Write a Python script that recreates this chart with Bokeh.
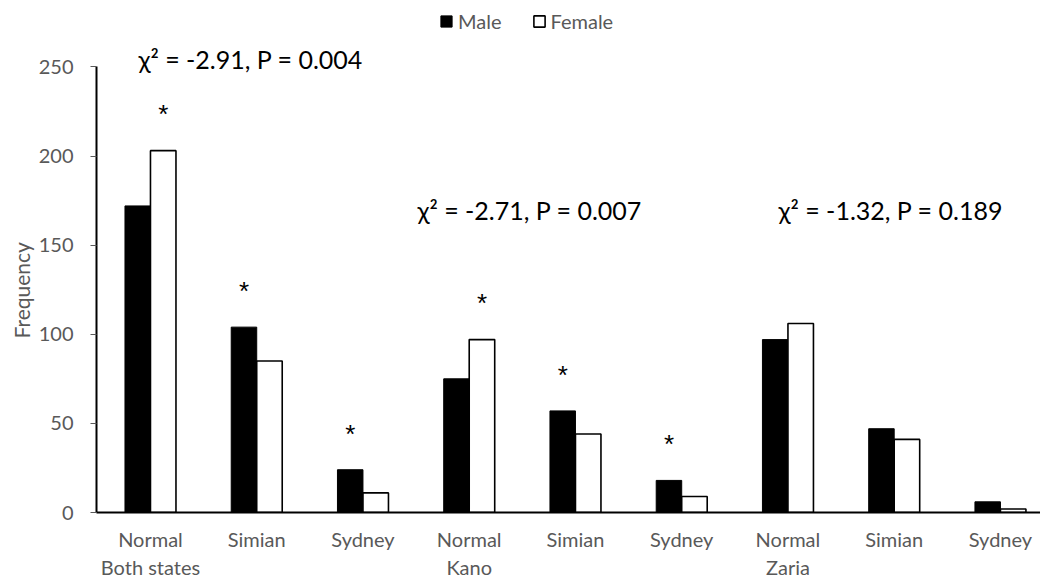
from bokeh.plotting import figure
from bokeh.models import (ColumnDataSource, Range1d, Legend, LegendItem, Label,
                          FixedTicker, Title)
from bokeh.embed import file_html
from bokeh.resources import INLINE

# ---- data ----
categories = ["Normal\nBoth states", "Simian", "Sydney",
              "Normal\nKano", "Simian", "Sydney",
              "Normal\nZaria", "Simian", "Sydney"]
male = [172, 104, 24, 75, 57, 18, 97, 47, 6]
female = [203, 85, 11, 97, 44, 9, 106, 41, 2]
male_star = [0, 1, 1, 0, 1, 1, 0, 0, 0]
female_star = [1, 0, 0, 1, 0, 0, 0, 0, 0]
stats = ["χ² = -2.91, P = 0.004", "χ² = -2.71, P = 0.007", "χ² = -1.32, P = 0.189"]
y_ticks = [0, 50, 100, 150, 200, 250]

FONT = "Lato"
GREY = "#595959"

idx = list(range(len(categories)))
src_m = ColumnDataSource(dict(x=[i - 0.12 for i in idx], top=male))
src_f = ColumnDataSource(dict(x=[i + 0.12 for i in idx], top=female))

p = figure(frame_width=944, frame_height=512,
           x_range=Range1d(-0.508, 8.377), y_range=Range1d(0, 287.25),
           output_backend="svg", toolbar_location=None,
           min_border_left=96, min_border_right=0,
           min_border_top=0, min_border_bottom=66,
           background_fill_color="white", border_fill_color="white",
           outline_line_color=None)

rm = p.vbar(x="x", top="top", width=0.24, source=src_m,
            fill_color="black", line_color="black", line_width=1)
rf = p.vbar(x="x", top="top", width=0.24, source=src_f,
            fill_color="white", line_color="black", line_width=1.6)

# asterisks
sx, sy = [], []
for i in idx:
    if male_star[i]:
        sx.append(i - 0.12); sy.append(male[i] + 22)
    if female_star[i]:
        sx.append(i + 0.12); sy.append(female[i] + 22)
p.text(x=sx, y=sy, text=["*"] * len(sx), text_align="center",
       text_baseline="middle", text_font_size="26px", text_color="black",
       y_offset=3)

# statistics annotations
stat_pos = [(-0.113, 254.5), (2.513, 169.6), (5.911, 169.6)]
for t, (x, y) in zip(stats, stat_pos):
    p.add_layout(Label(x=x, y=y, text=t, text_font=FONT, text_font_size="25px",
                       text_color="black", text_baseline="middle",
                       text_align="left"))

# axes
p.xgrid.visible = False
p.ygrid.visible = False
p.xaxis.ticker = FixedTicker(ticks=idx)
p.xaxis.major_label_overrides = {i: c for i, c in zip(idx, categories)}
p.xaxis.major_tick_line_color = None
p.xaxis.minor_tick_line_color = None
p.xaxis.axis_line_color = "black"
p.xaxis.axis_line_width = 2
p.xaxis.major_label_text_font = FONT
p.xaxis.major_label_text_font_size = "20px"
p.xaxis.major_label_text_color = GREY
p.xaxis.major_label_standoff = 8

p.yaxis.ticker = FixedTicker(ticks=y_ticks)
p.yaxis.bounds = (0, 250)
p.yaxis.minor_tick_line_color = None
p.yaxis.major_tick_in = 0
p.yaxis.major_tick_out = 6
p.yaxis.major_tick_line_color = GREY
p.yaxis.axis_line_color = "black"
p.yaxis.axis_line_width = 2
p.yaxis.major_label_text_font = FONT
p.yaxis.major_label_text_font_size = "20px"
p.yaxis.major_label_text_color = GREY
p.yaxis.major_label_standoff = 17

ylabel = Title(text="Frequency", align="left", offset=174,
               text_font=FONT, text_font_size="21px", text_font_style="normal",
               text_color=GREY, standoff=4)
p.add_layout(ylabel, "left")

legend = Legend(items=[LegendItem(label="Male", renderers=[rm]),
                       LegendItem(label="Female", renderers=[rf])],
                location=(343, 479), orientation="horizontal",
                glyph_width=14, glyph_height=14, label_standoff=5,
                spacing=30, padding=0, margin=0,
                border_line_color=None, background_fill_alpha=0,
                label_text_font=FONT, label_text_font_size="20px",
                label_text_color=GREY)
p.add_layout(legend, "center")

open("out.html", "w").write(file_html(p, INLINE))
